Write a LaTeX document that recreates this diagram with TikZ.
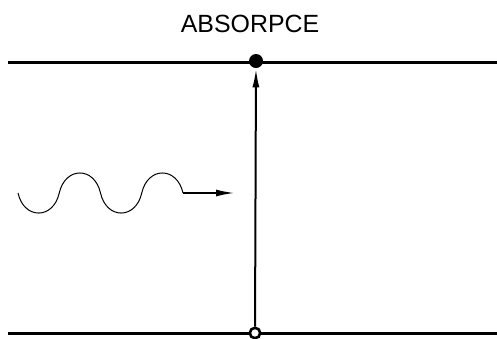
\documentclass[tikz,border=0pt]{standalone}
\usepackage{fontspec}
\newfontfamily\labelfont{Liberation Sans}
\usepackage{tikz}
\usetikzlibrary{arrows.meta}

\begin{document}
\begin{tikzpicture}[x=0.5bp, y=0.5bp,
    level/.style={line width=1.5bp},
    photon/.style={line width=0.5bp},
    transition/.style={line width=1bp, -{Latex[length=9.5bp,width=3.5bp]}}]
    \useasboundingbox (0,0) rectangle (497,338);
    % Energy levels
    \draw[level] (8,276) -- (497,276);
    \draw[level] (8,5) -- (497,5);
    % Title
    \node[font=\labelfont\fontsize{12.5}{15}\selectfont] (title) at (250,314) {ABSORPCE};
    % Level states
    \node[circle, fill=black, inner sep=0pt, minimum size=7bp] (upper) at (256,277) {};
    \node[circle, draw=black, fill=white, line width=1.3bp, inner sep=0pt, minimum size=5.2bp] (lower) at (255,5) {};
    % Transition
    \draw[transition] (lower) -- (upper);
    % Incoming photon (half waves, down/up)
    \draw[photon] (18,145)
      \foreach \s/\d in {18/-1, 59.25/1, 100.5/-1, 141.75/1}{
        .. controls ({\s+6},{145+26.7*\d}) and ({\s+35.25},{145+26.7*\d}) .. ({\s+41.25},145)
      } coordinate (waveend);
    \coordinate (beamtip) at (235,145);
    \draw[transition] (waveend) -- (beamtip);
\end{tikzpicture}
\end{document}
